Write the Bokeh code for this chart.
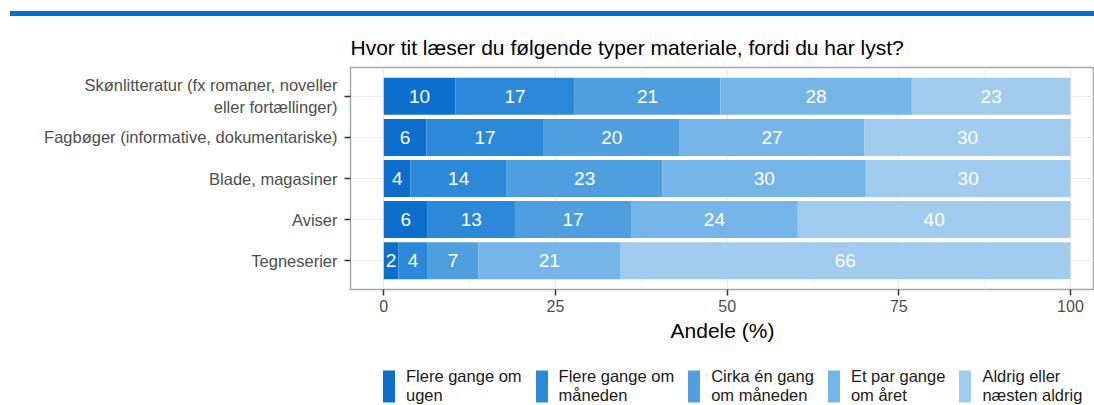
from bokeh.plotting import figure
from bokeh.models import (FactorRange, Range1d, Legend, LegendItem, ColumnDataSource,
                          Div, FixedTicker)
from bokeh.layouts import column
from bokeh.embed import file_html
from bokeh.resources import INLINE
from bokeh.core.properties import value

# ---------------- data ----------------
title_text = "Hvor tit læser du følgende typer materiale, fordi du har lyst?"
categories = [
    "Skønlitteratur (fx romaner, noveller\neller fortællinger)",
    "Fagbøger (informative, dokumentariske)",
    "Blade, magasiner",
    "Aviser",
    "Tegneserier",
]
series_names = [
    "Flere gange om\nugen",
    "Flere gange om\nmåneden",
    "Cirka én gang\nom måneden",
    "Et par gange\nom året",
    "Aldrig eller\nnæsten aldrig",
]
flere_gange_om_ugen = [10.4, 6.2, 3.9, 6.4, 2.1]
flere_gange_om_maaneden = [17.4, 17.1, 14.0, 12.7, 4.3]
cirka_en_gang_om_maaneden = [21.2, 19.8, 22.7, 16.9, 7.4]
et_par_gange_om_aaret = [27.9, 26.9, 29.6, 24.3, 20.6]
aldrig_eller_naesten_aldrig = [23.1, 30.0, 29.8, 39.7, 65.6]
series_values = [flere_gange_om_ugen, flere_gange_om_maaneden, cirka_en_gang_om_maaneden,
                 et_par_gange_om_aaret, aldrig_eller_naesten_aldrig]
colors = ["#0C6ECD", "#2C88D8", "#4F9FE0", "#76B5E7", "#A2CCEF"]
x_ticks = [0, 25, 50, 75, 100]
x_minor_ticks = [12.5, 37.5, 62.5, 87.5]
x_label = "Andele (%)"

FONT = "Liberation Sans"

# ---------------- main figure ----------------
p = figure(
    width=1086, height=349,
    y_range=FactorRange(factors=categories[::-1], range_padding=0.2,
                        range_padding_units="absolute"),
    x_range=Range1d(-4.85, 103.5),
    output_backend="svg", toolbar_location=None,
    min_border_left=342, min_border_right=0, min_border_top=51, min_border_bottom=76,
    margin=(0, 0, 0, 8),
)
p.outline_line_color = "#a6a6a6"
p.outline_line_width = 1.5
p.background_fill_color = "white"
p.border_fill_color = "white"

p.title.text = title_text
p.title.text_font = FONT
p.title.text_font_size = "21px"
p.title.text_font_style = "normal"
p.title.text_color = "#000000"
p.title.align = "left"
p.title.standoff = 18

left = [0.0] * len(categories)
for vals, col in zip(series_values, colors):
    right = [l + v for l, v in zip(left, vals)]
    mid = [l + v / 2 for l, v in zip(left, vals)]
    src = ColumnDataSource(dict(y=categories, left=list(left), right=right, mid=mid,
                                label=[str(round(v)) for v in vals]))
    p.hbar(y="y", left="left", right="right", height=0.9, source=src,
           fill_color=col, line_color=None)
    p.text(x="mid", y="y", text="label", source=src, text_align="center",
           text_baseline="middle", text_color="white", text_font=value(FONT),
           text_font_size=value("19px"))
    left = right

# axes
p.xaxis.ticker = FixedTicker(ticks=x_ticks, minor_ticks=x_minor_ticks)
p.xaxis.axis_label = x_label
p.xaxis.axis_label_text_font = FONT
p.xaxis.axis_label_text_font_size = "21px"
p.xaxis.axis_label_text_font_style = "normal"
p.xaxis.axis_label_text_color = "#000000"
p.xaxis.axis_label_standoff = 4
for ax in (p.xaxis, p.yaxis):
    ax.axis_line_color = None
    ax.major_tick_line_color = "#333333"
    ax.major_tick_line_width = 1.5
    ax.major_tick_out = 6
    ax.major_tick_in = 0
    ax.minor_tick_line_color = None
    ax.major_label_text_font = FONT
    ax.major_label_text_color = "#4d4d4d"
p.xaxis.major_label_text_font_size = "16px"
p.xaxis.major_label_standoff = 4
p.yaxis.major_label_text_font_size = "16.5px"
p.yaxis.major_label_standoff = 7

p.xgrid.grid_line_color = "#ebebeb"
p.xgrid.grid_line_width = 1.2
p.xgrid.minor_grid_line_color = "#f4f4f4"
p.xgrid.minor_grid_line_width = 0.8
p.ygrid.grid_line_color = "#ebebeb"
p.ygrid.grid_line_width = 1.2

# ---------------- legend strip ----------------
lg = figure(width=1086, height=40, x_range=Range1d(0, 1), y_range=Range1d(0, 1),
            output_backend="svg", toolbar_location=None,
            x_axis_location=None, y_axis_location=None,
            min_border_left=0, min_border_right=0, min_border_top=0, min_border_bottom=0,
            margin=(0, 0, 0, 8))
lg.outline_line_color = None
lg.grid.visible = False
items = []
for name, col in zip(series_names, colors):
    # zero-size placeholder glyph: only provides the legend key colour
    r = lg.hbar(y=[0], left=[0], right=[0], height=0, fill_color=col, line_color=None)
    items.append(LegendItem(label=name, renderers=[r]))
legend = Legend(items=items, orientation="horizontal", location=(31, -1),
                glyph_width=15, glyph_height=40, label_standoff=10, spacing=12,
                padding=0, margin=0, border_line_color=None,
                background_fill_alpha=0,
                label_text_font=FONT, label_text_font_size="16.5px",
                label_text_line_height=0.95,
                label_text_color="#1a1a1a")
lg.add_layout(legend, "center")

bar = Div(text="", width=1084, height=5, margin=(11, 0, 0, 10),
          styles={"background-color": "#0070C8"})

layout = column(bar, p, lg, spacing=0)
open("out.html", "w").write(file_html(layout, INLINE))
